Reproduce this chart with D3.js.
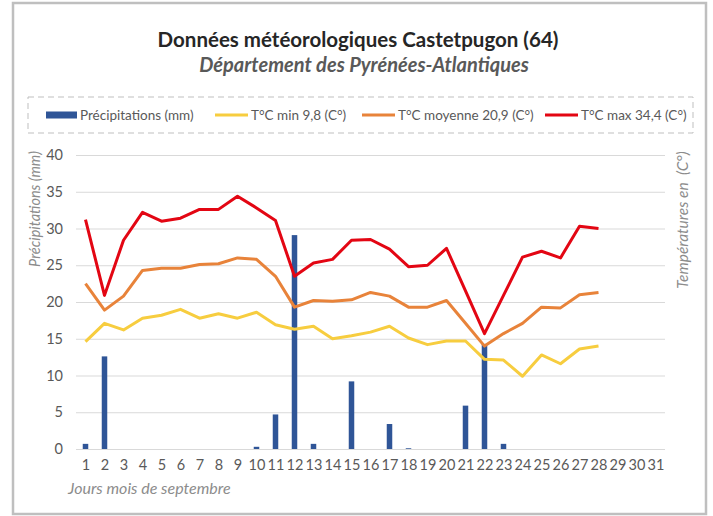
<!DOCTYPE html>
<html>
<head>
<meta charset="utf-8">
<script src="https://cdn.jsdelivr.net/npm/d3@7"></script>
<style>
  body { margin: 0; background: #fff; }
  svg text { font-family: Lato, "Open Sans", sans-serif; }
</style>
</head>
<body>
<svg id="chart" width="713" height="516"></svg>
<script>
// data
const days = d3.range(1, 32).map(String);
const precip = [0.7, 12.6, 0, 0, 0, 0, 0, 0, 0, 0.3, 4.7, 29.1, 0.7, 0, 9.2, 0, 3.4, 0.1, 0, 0, 5.9, 14.3, 0.7];
const tMin = [14.6, 17.1, 16.2, 17.8, 18.2, 19.0, 17.8, 18.4, 17.8, 18.6, 16.9, 16.3, 16.7, 15.0,
  15.4, 15.9, 16.7, 15.1, 14.2, 14.7, 14.7, 12.2, 12.1, 9.9, 12.8, 11.6, 13.6, 14.0];
const tMoy = [22.5, 18.9, 20.8, 24.3, 24.6, 24.6, 25.1, 25.2, 26.0, 25.8, 23.5, 19.3, 20.2, 20.1,
  20.3, 21.3, 20.8, 19.3, 19.3, 20.2, 17.1, 14.0, 15.7, 17.1, 19.3, 19.2, 21.0, 21.3];
const tMax = [31.2, 20.9, 28.4, 32.2, 31.0, 31.4, 32.6, 32.6, 34.4, 32.8, 31.1, 23.5, 25.3, 25.8,
  28.4, 28.5, 27.2, 24.8, 25.0, 27.3, 21.5, 15.7, 20.9, 26.1, 26.9, 26.0, 30.3, 30.0];
const yTicks = [0, 5, 10, 15, 20, 25, 30, 35, 40];

const legendItems = [
  { label: 'Précipitations (mm)', color: '#2f5597', type: 'bar', x: 46 },
  { label: 'T°C min 9,8 (C°)', color: '#f7cd3f', type: 'line', x: 215 },
  { label: 'T°C moyenne 20,9 (C°)', color: '#e8833a', type: 'line', x: 362 },
  { label: 'T°C max 34,4 (C°)', color: '#e30613', type: 'line', x: 545 }
];

const svg = d3.select('#chart');
const plotLeft = 76, plotRight = 665, plotTop = 155, plotBottom = 449;

// frame
svg.append('rect')
  .attr('x', 13).attr('y', 3)
  .attr('width', 693).attr('height', 511)
  .attr('fill', 'none').attr('stroke', '#bfbfbf').attr('stroke-width', 2.5);

// titles
svg.append('text')
  .attr('x', 358).attr('y', 47)
  .attr('text-anchor', 'middle')
  .attr('font-size', 20.5).attr('font-weight', 'bold').attr('fill', '#262626')
  .text('Données météorologiques Castetpugon (64)');
svg.append('text')
  .attr('x', 364).attr('y', 72)
  .attr('text-anchor', 'middle')
  .attr('font-size', 20).attr('font-style', 'italic').attr('font-weight', 'bold').attr('fill', '#595959')
  .text('Département des Pyrénées-Atlantiques');

// legend
svg.append('rect')
  .attr('x', 28).attr('y', 97).attr('width', 665).attr('height', 36)
  .attr('fill', 'none').attr('stroke', '#bfbfbf').attr('stroke-dasharray', '6,4');

const leg = svg.append('g').selectAll('g')
  .data(legendItems).enter().append('g')
  .attr('transform', d => `translate(${d.x},115)`);
leg.filter(d => d.type === 'bar').append('rect')
  .attr('x', 0).attr('y', -3.5).attr('width', 31).attr('height', 7)
  .attr('fill', d => d.color);
leg.filter(d => d.type === 'line').append('line')
  .attr('x1', 0).attr('x2', 33).attr('y1', 0).attr('y2', 0)
  .attr('stroke', d => d.color).attr('stroke-width', 3);
leg.append('text')
  .attr('x', d => d.type === 'bar' ? 34 : 36).attr('y', 5)
  .attr('font-size', 13.5).attr('fill', '#595959')
  .text(d => d.label);

// scales
const x = d3.scaleBand().domain(days).range([plotLeft, plotRight]).paddingInner(0.71).paddingOuter(0.355);
const xp = d3.scalePoint().domain(days).range([plotLeft, plotRight]).padding(0.5);
const y = d3.scaleLinear().domain([0, 40]).range([plotBottom, plotTop]);

// gridlines
svg.append('g')
  .attr('transform', `translate(${plotLeft},0)`)
  .call(d3.axisLeft(y).tickValues(yTicks).tickSize(-(plotRight - plotLeft)).tickFormat(''))
  .call(g => g.select('.domain').remove())
  .call(g => g.selectAll('line').attr('stroke', '#d9d9d9'));

// y labels
svg.append('g')
  .attr('transform', `translate(${plotLeft},0)`)
  .call(d3.axisLeft(y).tickValues(yTicks).tickSize(0).tickPadding(13))
  .call(g => g.select('.domain').remove())
  .call(g => g.selectAll('text').attr('font-size', 14.5).attr('fill', '#595959')
    .style('font-family', 'Lato, "Open Sans", sans-serif'));

// x labels
svg.append('g')
  .attr('transform', `translate(0,${plotBottom})`)
  .call(d3.axisBottom(xp).tickSize(0).tickPadding(11))
  .call(g => g.select('.domain').remove())
  .call(g => g.selectAll('text').attr('font-size', 14.5).attr('fill', '#595959')
    .style('font-family', 'Lato, "Open Sans", sans-serif'));

// axis titles
svg.append('text')
  .attr('transform', 'translate(40,209) rotate(-90)')
  .attr('text-anchor', 'middle')
  .attr('font-size', 14.5).attr('font-style', 'italic').attr('fill', '#8c8c8c')
  .text('Précipitations (mm)');
svg.append('text')
  .attr('transform', 'translate(688,220) rotate(-90)')
  .attr('text-anchor', 'middle')
  .attr('font-size', 15.5).attr('font-style', 'italic').attr('fill', '#8c8c8c')
  .attr('xml:space', 'preserve')
  .text('Températures en  (C°)');
svg.append('text')
  .attr('x', 68).attr('y', 494)
  .attr('font-size', 16).attr('font-style', 'italic').attr('fill', '#8c8c8c')
  .text('Jours mois de septembre');

// bars
svg.append('g').selectAll('rect')
  .data(precip).enter().append('rect')
  .attr('x', (d, i) => x(days[i]))
  .attr('y', d => y(d))
  .attr('width', x.bandwidth())
  .attr('height', d => y(0) - y(d))
  .attr('fill', '#2f5597');

// lines
const line = d3.line().x((d, i) => xp(days[i])).y(d => y(d));
[[tMin, legendItems[1].color], [tMoy, legendItems[2].color], [tMax, legendItems[3].color]].forEach(([s, c]) => {
  svg.append('path')
    .datum(s)
    .attr('d', line)
    .attr('fill', 'none')
    .attr('stroke', c)
    .attr('stroke-width', 3)
    .attr('stroke-linejoin', 'round');
});
</script>
</body>
</html>
